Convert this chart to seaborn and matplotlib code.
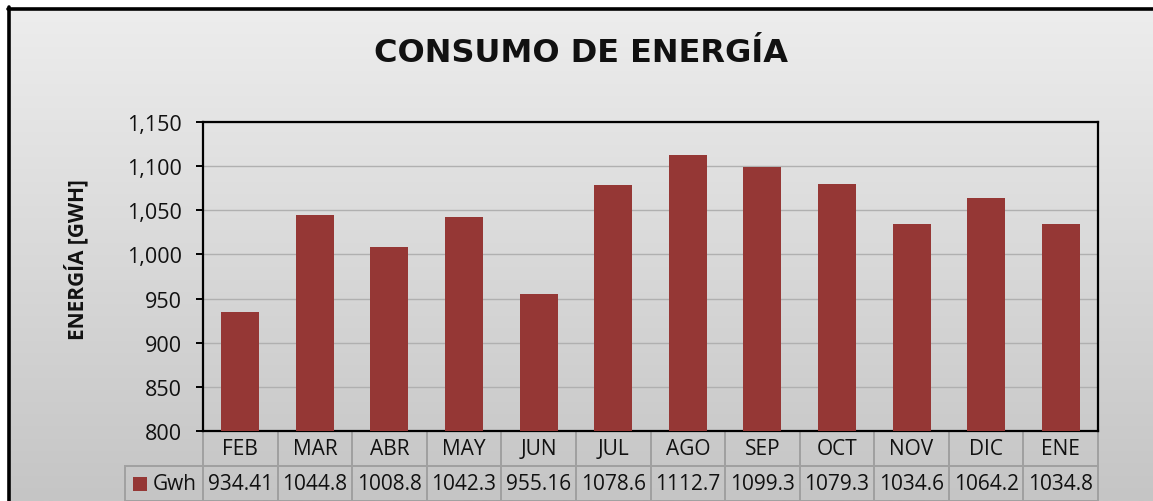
import numpy as np
import pandas as pd
import matplotlib
matplotlib.use("Agg")
import matplotlib.pyplot as plt
from matplotlib.lines import Line2D
from matplotlib.patches import Rectangle
from matplotlib.ticker import FuncFormatter
from matplotlib.colors import LinearSegmentedColormap
import seaborn as sns

months = ["FEB", "MAR", "ABR", "MAY", "JUN", "JUL", "AGO", "SEP", "OCT", "NOV", "DIC", "ENE"]
gwh = [934.41, 1044.8, 1008.8, 1042.3, 955.16, 1078.6, 1112.7, 1099.3, 1079.3, 1034.6, 1064.2, 1034.8]
value_labels = ["934.41", "1044.8", "1008.8", "1042.3", "955.16", "1078.6", "1112.7", "1099.3", "1079.3", "1034.6", "1064.2", "1034.8"]
series_name = "Gwh"
title = "CONSUMO DE ENERGÍA"
ylabel = "ENERGÍA [GWH]"
yticks = [800, 850, 900, 950, 1000, 1050, 1100, 1150]

sns.set_theme(style="white")
plt.rcParams["font.family"] = ["Open Sans", "DejaVu Sans"]

W, H = 1153, 502
fig = plt.figure(figsize=(W / 100, H / 100), dpi=100, facecolor="white")

# gradient background inside the frame
bg = fig.add_axes([9 / W, 0, 1 - 9 / W, 1 - 10 / H], zorder=-10)
grad = np.linspace(0, 1, 256).reshape(-1, 1)
cmap = LinearSegmentedColormap.from_list("g", ["#ededed", "#c5c5c5"])
bg.imshow(grad, aspect="auto", cmap=cmap, extent=[0, 1, 0, 1], origin="upper")
bg.set_axis_off()

# outer frame lines (left and top visible)
fig.add_artist(Line2D([8.5 / W, 8.5 / W], [0, 1 - 8 / H], transform=fig.transFigure, color="black", lw=2.6))
fig.add_artist(Line2D([7.5 / W, 1], [1 - 9.5 / H, 1 - 9.5 / H], transform=fig.transFigure, color="black", lw=2.6))

left, right, top, bottom = 203, 1098, 123, 432
ax = fig.add_axes([left / W, 1 - bottom / H, (right - left) / W, (bottom - top) / H])
ax.set_facecolor("none")

df = pd.DataFrame({"month": months, "gwh": gwh})
sns.barplot(data=df, x="month", y="gwh", color="#953735", saturation=1, width=0.51,
            linewidth=0, edgecolor="none", ax=ax, zorder=3)

ax.set_ylim(800, 1150)
ax.set_yticks(yticks)
ax.yaxis.set_major_formatter(FuncFormatter(lambda v, p: f"{int(v):,}"))
ax.grid(axis="y", color="#b0b0b0", lw=1.0, zorder=0)
ax.set_axisbelow(True)
for s in ax.spines.values():
    s.set_color("black")
    s.set_linewidth(1.6)
ax.tick_params(axis="y", direction="out", length=5, width=1.4, color="black", pad=10,
               labelsize=15.5, labelcolor="#111111", left=True)
ax.tick_params(axis="x", length=0, labelbottom=False)
ax.set_xlabel("")
ax.set_ylabel("")
ax.set_xlim(-0.5, len(months) - 0.5)

# data table below
ax_w = right - left
ax_h = bottom - top
row_h = 35 / ax_h
lab_w = 78 / ax_w
tbl = ax.table(cellText=[value_labels], rowLabels=[series_name], colLabels=months,
               colWidths=[1 / len(months)] * len(months),
               cellLoc="center", rowLoc="right", colLoc="center",
               bbox=[0, -2 * row_h, 1, 2 * row_h])
tbl._autoColumns = []
tbl.auto_set_font_size(False)
for (r, c), cell in tbl.get_celld().items():
    if c == -1:
        cell.set_width(lab_w)
        cell.PAD = 0.08
    cell.set_edgecolor("#a0a0a0")
    cell.set_linewidth(1.4)
    cell.set_facecolor("none")
    cell.get_text().set_fontsize(15)
    cell.get_text().set_color("#111111")

# legend key in row label cell
kx0 = (133 - left) / ax_w
ky0 = (bottom - 492) / ax_h
ax.add_patch(Rectangle((kx0, ky0), 14 / ax_w, 14 / ax_h, transform=ax.transAxes,
                       facecolor="#953735", edgecolor="none", clip_on=False, zorder=5))

fig.text(581 / W, 1 - 53 / H, title, ha="center", va="center", fontsize=23,
         fontweight="bold", color="#111111", family=["DejaVu Sans"])
fig.text(76 / W, 1 - 260 / H, ylabel, ha="center", va="center", rotation=90,
         fontsize=15, fontweight="bold", color="#111111")

fig.savefig("out.png", dpi=100, facecolor="white")
